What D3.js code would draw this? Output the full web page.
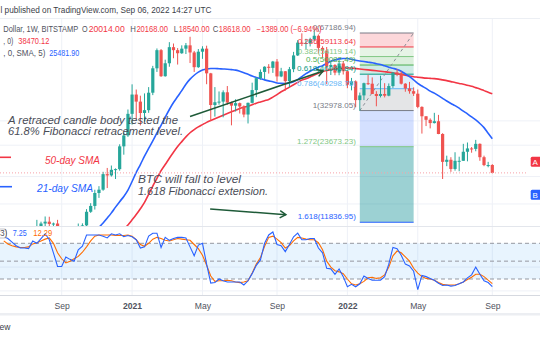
<!DOCTYPE html>
<html><head><meta charset="utf-8">
<script src="https://cdn.jsdelivr.net/npm/d3@7"></script>
<style>
html,body{margin:0;padding:0;background:#fff;}
svg{display:block;font-family:"Liberation Sans",Arial,sans-serif;}
</style>
</head><body>
<svg id="chart" width="540" height="340"></svg>
<script>
// Weekly BTC/USD candles (Bitstamp), first bar = week of 2020-06-01
const firstWeek = "2020-06-01";
const opens = [9450,9660,9340,9300,9010,9080,9240,9170,9950,11200,
 11700,11900,11650,11700,10250,10780,10920,10780,11080,11380,
 11500,13030,13750,15480,15960,18400,18190,19150,19270,23750,
 26250,32000,38200,35800,32250,33100,38850,48600,57400,45200,
 50900,59000,57400,55800,58200,60000,56200,49100,56600,58200,
 46400,34700,35600,35800,39000,35500,34500,35300,34250,31800,
 35400,39800,44400,47000,49300,48800,51700,45100,47300,43200,
 48200,54700,61500,61200,61300,63300,65500,58600,57200,49400,
 50100,46700,50800,47300,41800,43100,36300,37900,42400,42200,
 38400,37700,38400,37800,41300,46800,46400,42200,40400,39400,
 38500,34100,31300,30300,29400,29900,26600,20600,21000,19300,
 20800,20800,22600,23300,23200,24300,21500,20000,20014];
const highs = [10380,9990,9590,9780,9300,9440,9330,10000,12100,11900,
 12480,12450,11800,12100,10800,11180,10980,10950,11700,11720,
 13350,14100,15950,16480,18800,19480,19920,19400,24200,27000,
 33300,41950,40000,37800,38600,40900,49700,58300,58000,52600,
 61780,61000,58500,60000,61300,64900,57000,58000,59500,59800,
 46600,40900,39300,39700,41300,35800,36600,35500,34600,35500,
 42600,44800,48100,49500,50500,52000,52900,48800,47400,49200,
 56500,62900,67000,63700,64300,69000,66300,59500,59100,51900,
 50500,52100,52000,47600,44500,43500,38900,42600,45800,44700,
 39400,45400,42400,42300,46800,48200,47200,42400,42900,40800,
 40000,34300,31300,30700,32300,31700,26800,21800,21500,22500,
 21600,24300,24600,23600,25200,24400,21800,20600,20168];
const lows = [9260,9100,8970,8830,8940,9050,9000,9130,9900,11000,
 11150,11350,11100,9900,9870,10200,10130,10380,10540,11200,
 11400,12900,13300,14800,15800,16200,18000,17600,19000,22000,
 25900,29000,30400,28800,29800,32300,38000,47000,44900,45000,
 49300,53300,50300,55500,55400,51000,47000,48800,53000,42000,
 30000,31200,34800,31000,34800,28800,32700,32100,31000,29300,
 35200,37300,43800,43900,46300,46600,43000,44800,39600,40800,
 46900,54400,59600,58000,59400,62300,55600,53500,42000,45700,
 45600,45600,45900,40500,39700,34000,32950,36300,41700,39500,
 34300,37200,37200,37600,40600,45200,41900,39200,38500,37700,
 33700,26700,28600,28000,29300,26550,17600,19800,18800,19000,
 18900,20800,20700,22400,22700,20800,19800,19600,18540];
const closes = [9660,9340,9300,9010,9080,9240,9170,9950,11200,11700,
 11900,11650,11700,10250,10780,10920,10780,11080,11380,11500,
 13030,13750,15480,15960,18400,18190,19150,19270,23750,26250,
 32000,38200,35800,32250,33100,38850,48600,57400,45200,50900,
 59000,57400,55800,58200,60000,56200,49100,56600,58200,46400,
 34700,35600,35800,39000,35500,34500,35300,34250,31800,35400,
 39800,44400,47000,49300,48800,51700,45100,47300,43200,48200,
 54700,61500,61200,61300,63300,65500,58600,57200,49400,50100,
 46700,50800,47300,41800,43100,36300,37900,42400,42200,38400,
 37700,38400,37800,41300,46800,46400,42200,40400,39400,38500,
 34100,31300,30300,29400,29900,26600,20600,21000,19300,20800,
 20800,22600,23300,23200,24300,21500,20000,20007,18618];

// Moving averages (first value sits on the bar index given by *Start)
const sma21Start = 23;
const sma21 = [11300,11750,12300,12900,13600,14300,15000,15900,17200,18700,
 20100,21700,23300,25000,26850,28800,31000,33300,35500,37500,
 39600,42000,44000,45600,46900,47800,48300,48500,48500,48400,
 48300,48200,48000,47800,47300,46700,46000,45300,44700,44200,
 43700,43300,42950,42500,42350,42300,42500,43000,43800,45000,
 46300,47300,48300,49100,49800,50800,51800,52500,53000,53200,
 53200,52800,52300,52000,51700,51400,51100,50700,50300,49700,
 49100,48600,48100,47300,46200,45000,43700,42300,41300,40400,
 39400,38700,37800,36900,36000,35200,34500,33700,32800,32000,
 31100,30300,29300,28200,26800,25481.90];
const sma50Start = 29;
const sma50 = [11100,11550,12100,12700,13400,14200,15300,16500,17700,19000,
 20100,21300,22500,23700,24800,25900,26900,27700,28400,29000,
 29600,30100,30600,31100,31600,32100,32600,33100,33600,34000,
 34300,34800,35300,35700,36100,36500,37300,38200,39200,40000,
 40900,41800,42700,43600,44200,44900,45700,46400,47100,47600,
 48000,48300,48500,48700,48750,48700,48500,48300,48100,47900,
 47700,47500,47300,47100,46900,46600,46200,45900,45600,45300,
 45000,44800,44600,44400,44300,44200,44000,43700,43400,43000,
 42700,42300,42000,41600,41200,40700,40200,39600,39000,38470.12];

// Stochastic %K and %D, one value per bar
const stochK = [91,88,82,76,72,72,71,84,80,88,
 96,86,64,41,41,57,53,50,69,75,
 94,94,94,94,92,89,96,94,96,91,
 93,91,86,72,74,92,97,97,73,90,
 85,88,90,90,89,74,59,77,80,45,
 13,14,20,17,15,15,15,15,10,17,
 29,43,52,80,94,99,78,76,66,78,
 91,97,86,86,88,88,72,64,38,37,
 28,37,24,7,11,7,12,25,21,18,
 18,18,24,45,73,71,60,45,42,33,
 2,26,24,21,18,13,9,10,8,9,
 12,15,22,27,40,28,17,14,7.25];
const stochD = [84,79,76,74,73,73,74,79,81,84,
 87,89,80,64,54,47,50,54,58,65,
 74,84,92,94,94,94,94,93,93,93,
 94,92,86,78,75,80,87,90,88,85,
 84,86,88,87,86,85,78,71,60,43,
 25,16,17,17,18,17,15,14,15,17,
 30,45,56,75,90,92,87,81,72,76,
 84,90,89,87,86,86,81,69,50,40,
 34,32,29,20,12,10,12,16,22,23,
 21,22,27,40,59,67,64,57,50,38,
 30,24,21,20,18,14,11,10,10,10,
 12,15,19,23,28,28,24,18,12.29];
const stochBands = [80, 50, 20];

// Time axis
const tickDates = ["2020-09-07","2021-01-04","2021-05-03","2021-09-06","2022-01-03","2022-05-02","2022-09-05"];
const tickLabels = ["Sep","2021","May","Sep","2022","May","Sep"];
const priceGrid = [14000, 18000, 24000, 30000];
const stochGrid = [0, 40];

// Fibonacci drawing
const fibDates = ["2022-01-24","2022-04-25"];
const fibAnchorPrices = [32978.05, 67186.94];
const fibLevels = ["0","0.236","0.382","0.5","0.618","0.786","1","1.272","1.618"];
const fibPrices = [67186.94,59113.64,54119.14,50082.49,46045.84,40298.75,32978.05,23673.23,11836.95];
const fibLineColors = ["#787b86","#f23645","#81c784","#4caf50","#089981","#64b5f6","#787b86","#81c784","#2962ff"];
const fibFills = ["rgba(242,54,69,0.2)","rgba(129,199,132,0.2)","rgba(76,175,80,0.2)","rgba(8,153,129,0.2)",
                  "rgba(100,181,246,0.2)","rgba(120,123,134,0.2)","rgba(41,98,255,0.2)","rgba(8,140,145,0.4)"];

// Arrows: [start date, start price, end date, end price]
const arrowStartDates = ["2021-04-12","2021-05-16"];
const arrowStartPrices = [31240, 13370];
const arrowEndDates = ["2021-11-23","2021-09-21"];
const arrowEndPrices = [47410, 12690];

const lastClose = closes[closes.length - 1];
const prevClose = closes[closes.length - 2];

// ---------- layout ----------
const svg = d3.select("#chart");
const parseDate = d3.utcParse("%Y-%m-%d");
const weeks = closes.map((_, i) => d3.utcMonday.offset(parseDate(firstWeek), i));
const n = closes.length;

const plotRight = 528;
const priceTop = 18.5, priceBottom = 226;
const stochTop = 226, stochBottom = 295.5;

const x = d3.scaleUtc().domain([weeks[0], weeks[n - 1]]).range([3.74, 492.3]);
const y = d3.scaleLog().domain([11836.95, 67186.94]).range([222.25, 33]);
const ys = d3.scaleLinear().domain([0, 100]).range([290.9, 231.4]);

const UP = "#26a69a", DOWN = "#ef5350";
const GRID = "#eef1f7";
const RED = "#f23645", GREY = "#50535e";

svg.append("rect").attr("width", 540).attr("height", 340).attr("fill", "#fff");

const defs = svg.append("defs");
defs.append("clipPath").attr("id", "clipP").append("rect")
  .attr("x", 0).attr("y", priceTop).attr("width", plotRight).attr("height", priceBottom - priceTop);
defs.append("clipPath").attr("id", "clipS").append("rect")
  .attr("x", 0).attr("y", stochTop).attr("width", 540).attr("height", stochBottom - stochTop);

// grid
const grid = svg.append("g");
grid.selectAll("line.v").data(tickDates).join("line")
  .attr("x1", d => x(parseDate(d))).attr("x2", d => x(parseDate(d)))
  .attr("y1", priceTop).attr("y2", stochBottom)
  .attr("stroke", GRID).attr("stroke-width", 1);
grid.selectAll("line.hp").data(priceGrid).join("line")
  .attr("x1", 0).attr("x2", 540).attr("y1", d => y(d)).attr("y2", d => y(d))
  .attr("stroke", GRID).attr("stroke-width", 1);

// pane borders
svg.append("line").attr("x1", 0).attr("x2", 540).attr("y1", priceTop).attr("y2", priceTop)
  .attr("stroke", "#eceff4");
svg.append("line").attr("x1", 0).attr("x2", 540).attr("y1", priceBottom + 0.5).attr("y2", priceBottom + 0.5)
  .attr("stroke", "#e3e6ec");
svg.append("line").attr("x1", 0).attr("x2", 540).attr("y1", stochBottom).attr("y2", stochBottom)
  .attr("stroke", "#d6d9e0");
svg.append("rect").attr("x", 0).attr("y", 313).attr("width", 540).attr("height", 2.5).attr("fill", "#eceef2");

// ---------- price pane ----------
const pg = svg.append("g").attr("clip-path", "url(#clipP)");

// fib bands
const fx0 = x(parseDate(fibDates[0])), fx1 = x(parseDate(fibDates[1]));
pg.append("g").selectAll("rect").data(fibFills).join("rect")
  .attr("x", fx0).attr("width", fx1 - fx0)
  .attr("y", (d, i) => y(fibPrices[i]))
  .attr("height", (d, i) => y(fibPrices[i + 1]) - y(fibPrices[i]))
  .attr("fill", d => d);
pg.append("g").selectAll("line").data(fibPrices).join("line")
  .attr("x1", fx0).attr("x2", fx1)
  .attr("y1", d => y(d)).attr("y2", d => y(d))
  .attr("stroke", (d, i) => fibLineColors[i]).attr("stroke-width", 1);
pg.append("line")
  .attr("x1", fx0).attr("y1", y(fibAnchorPrices[0]))
  .attr("x2", fx1).attr("y2", y(fibAnchorPrices[1]))
  .attr("stroke", "#8a8d96").attr("stroke-width", 1).attr("stroke-dasharray", "3,3");

// moving averages
const smaLine = start => d3.line().x((d, k) => x(weeks[start + k])).y(d => y(d)).curve(d3.curveMonotoneX);
pg.append("path").attr("d", smaLine(sma50Start)(sma50))
  .attr("fill", "none").attr("stroke", RED).attr("stroke-width", 1.6);
pg.append("path").attr("d", smaLine(sma21Start)(sma21))
  .attr("fill", "none").attr("stroke", "#2962ff").attr("stroke-width", 1.6);

// candles
const cg = pg.append("g").selectAll("g").data(d3.range(n)).join("g");
const col = i => closes[i] >= opens[i] ? UP : DOWN;
cg.append("line")
  .attr("x1", i => x(weeks[i])).attr("x2", i => x(weeks[i]))
  .attr("y1", i => y(highs[i])).attr("y2", i => y(lows[i]))
  .attr("stroke", col).attr("stroke-width", 1);
cg.append("rect")
  .attr("x", i => x(weeks[i]) - 1.6).attr("width", 3.2)
  .attr("y", i => y(Math.max(opens[i], closes[i])))
  .attr("height", i => Math.max(1, y(Math.min(opens[i], closes[i])) - y(Math.max(opens[i], closes[i]))))
  .attr("fill", col);

// last price line
pg.append("line").attr("x1", 0).attr("x2", plotRight)
  .attr("y1", y(lastClose)).attr("y2", y(lastClose))
  .attr("stroke", "#f7a1a8").attr("stroke-width", 1).attr("stroke-dasharray", "1,2");

// fib labels
svg.append("g").selectAll("text").data(fibLevels).join("text")
  .attr("x", fx0 - 4).attr("y", (d, i) => y(fibPrices[i]) - 3)
  .attr("text-anchor", "end").attr("font-size", 8)
  .attr("fill", (d, i) => fibLineColors[i])
  .text((d, i) => `${d}(${fibPrices[i].toFixed(2)})`);

// arrows
const ag = svg.append("g");
arrowStartDates.forEach((d, k) => {
  const x1 = x(parseDate(d)), y1 = y(arrowStartPrices[k]);
  const x2 = x(parseDate(arrowEndDates[k])), y2 = y(arrowEndPrices[k]);
  const a = Math.atan2(y2 - y1, x2 - x1), L = 7, s = 0.55;
  ag.append("line").attr("x1", x1).attr("y1", y1).attr("x2", x2).attr("y2", y2)
    .attr("stroke", "#1e5a38").attr("stroke-width", 1.5);
  ag.append("path")
    .attr("d", `M${x2 - L * Math.cos(a - s)},${y2 - L * Math.sin(a - s)}L${x2},${y2}L${x2 - L * Math.cos(a + s)},${y2 - L * Math.sin(a + s)}`)
    .attr("fill", "none").attr("stroke", "#1e5a38").attr("stroke-width", 1.5);
});

// legend keys for the averages
svg.append("line").attr("x1", 0).attr("x2", 11).attr("y1", 157.3).attr("y2", 157.3)
  .attr("stroke", RED).attr("stroke-width", 1.6);
svg.append("line").attr("x1", 0).attr("x2", 12).attr("y1", 186.7).attr("y2", 186.7)
  .attr("stroke", "#2962ff").attr("stroke-width", 1.6);

// annotation texts
const note = (t, xx, yy, w, fill) => svg.append("text").attr("x", xx).attr("y", yy)
  .attr("font-size", 10).attr("font-style", "italic").attr("fill", fill)
  .attr("textLength", w).attr("lengthAdjust", "spacingAndGlyphs").text(t);
note("A retraced candle body tested the", 8, 124, 170, "#4a4d57");
note("61.8% Fibonacci retracement level.", 8, 135.3, 175, "#4a4d57");
note("50-day SMA", 45, 163.7, 55, RED);
note("21-day SMA", 37, 192, 56, "#2962ff");
note("BTC will fall to level", 138, 183, 103, "#4a4d57");
note("1.618 Fibonacci extension.", 138, 194.5, 130, "#4a4d57");

// ---------- header & legend ----------
// one text element per row; each piece is a tspan with its own colour
const row = (yy, parts, size = 8.3) => {
  const t = svg.append("text").attr("y", yy).attr("font-size", size);
  parts.forEach(([s, xx, fill, w]) => {
    const sp = t.append("tspan").attr("x", xx).attr("fill", fill).text(s);
    if (w) sp.attr("textLength", w).attr("lengthAdjust", "spacingAndGlyphs");
  });
  return t;
};
row(12.8, [["l published on TradingView.com, Sep 06, 2022 14:27 UTC", 0.5, "#3b3e48", 211]]);
const chg = lastClose - prevClose;
row(32, [
  ["Dollar, 1W, BITSTAMP", 3.3, GREY, 75],
  ["O", 82, GREY, 5.6], [opens[n - 1].toFixed(2), 88.7, RED, 36],
  ["H", 130.3, GREY, 5.6], [highs[n - 1].toFixed(2), 136.4, RED, 31.5],
  ["L", 173.8, GREY, 4.4], [lows[n - 1].toFixed(2), 178.7, RED, 30.8],
  ["C", 212.8, GREY, 5.6], [lastClose.toFixed(2), 218.8, RED, 31.8],
  [`\u2212${Math.abs(chg).toFixed(2)} (\u2212${(Math.abs(chg) / prevClose * 100).toFixed(2)}%)`, 256.5, RED, 65]
]);
row(44, [[", 0)", 3.3, GREY, 10], [sma50[sma50.length - 1].toFixed(2), 18.3, RED, 31]]);
row(55.5, [[", 0, SMA, 5)", 3.3, GREY, 42], [sma21[sma21.length - 1].toFixed(2), 49.3, "#2962ff", 30]]);

// right-side scale tags
svg.append("rect").attr("x", 530.7).attr("y", 156.7).attr("width", 14).attr("height", 10).attr("rx", 1.5).attr("fill", RED);
svg.append("text").attr("x", 532.5).attr("y", 164.5).attr("font-size", 8).attr("fill", "#fff").text("A");
svg.append("rect").attr("x", 530.7).attr("y", 189.7).attr("width", 14).attr("height", 10).attr("rx", 1.5).attr("fill", "#2962ff");
svg.append("text").attr("x", 532.5).attr("y", 197.5).attr("font-size", 8).attr("fill", "#fff").text("B");

// ---------- stochastic pane ----------
const sg = svg.append("g").attr("clip-path", "url(#clipS)");
sg.selectAll("line.g").data(stochGrid).join("line")
  .attr("x1", 0).attr("x2", 540).attr("y1", d => ys(d)).attr("y2", d => ys(d))
  .attr("stroke", GRID);
sg.append("rect").attr("x", 0).attr("width", 540)
  .attr("y", ys(stochBands[0])).attr("height", ys(stochBands[2]) - ys(stochBands[0]))
  .attr("fill", "rgba(33,150,243,0.1)");
sg.selectAll("line.b").data(stochBands).join("line")
  .attr("x1", 0).attr("x2", 540).attr("y1", d => ys(d)).attr("y2", d => ys(d))
  .attr("stroke", "#9598a1").attr("stroke-width", 1).attr("stroke-dasharray", "4,3");
const sline = d3.line().x((d, i) => x(weeks[i])).y(d => ys(d));
sg.append("path").attr("d", sline(stochD)).attr("fill", "none").attr("stroke", "#ff6d00").attr("stroke-width", 1.1);
sg.append("path").attr("d", sline(stochK)).attr("fill", "none").attr("stroke", "#2962ff").attr("stroke-width", 1.1);

svg.append("rect").attr("x", -3).attr("y", 229).attr("width", 9.5).attr("height", 9).attr("rx", 2)
  .attr("fill", "#fff").attr("stroke", "#b2b5be").attr("stroke-width", 0.8);
row(236, [["3)", 0, GREY, null], [stochK[n - 1].toFixed(2), 12.7, "#2962ff", 14], [stochD[n - 1].toFixed(2), 33.3, "#ff6d00", 19]]);

// ---------- time axis ----------
const ax = svg.append("g").attr("transform", `translate(0,${stochBottom})`)
  .call(d3.axisBottom(x).tickValues(tickDates.map(parseDate))
    .tickFormat((d, i) => tickLabels[i]).tickSize(0).tickPadding(7.5));
ax.select(".domain").remove();
ax.selectAll("text").attr("font-size", 8.6).attr("fill", GREY)
  .attr("font-family", "'Liberation Sans',Arial,sans-serif")
  .attr("font-weight", (d, i) => /^\d{4}$/.test(tickLabels[i]) ? "bold" : "normal");

row(330, [["ew", -0.5, "#3b3e48", null]], 8.5);
</script>
</body></html>
